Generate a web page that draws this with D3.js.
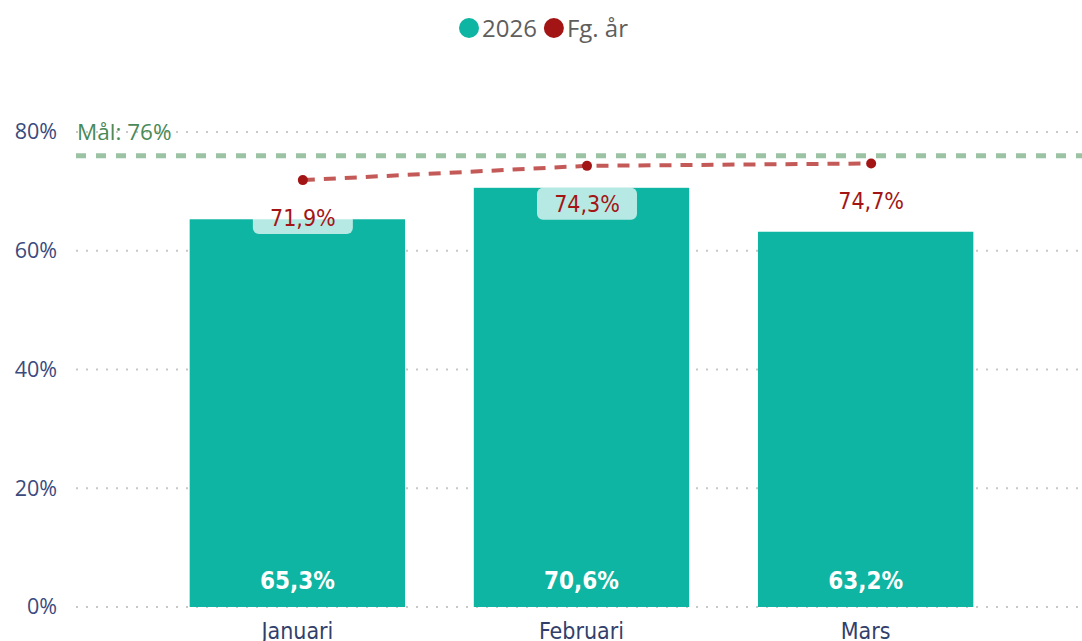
<!DOCTYPE html>
<html><head><meta charset="utf-8">
<script src="https://cdn.jsdelivr.net/npm/d3@7"></script>
<style>body{margin:0;background:#fff}svg{display:block}</style>
</head><body>
<svg id="chart" width="1082" height="641"></svg>
<script>
const categories = ["Januari", "Februari", "Mars"];
const values2026 = [65.3, 70.6, 63.2];
const valuesPrev = [71.9, 74.3, 74.7];
const yTicks = [0, 20, 40, 60, 80];
const goalValue = 76;
const goalLabel = "Mål: 76%";
const legendLabels = ["2026", "Fg. år"];

const teal = "#0db5a2", darkRed = "#a31515", lineRed = "#c45a58", goalGreen = "#9cc2a4";
const fmt = v => v.toFixed(1).replace(".", ",") + "%";

const svg = d3.select("#chart");
const x = d3.scaleBand().domain(categories).range([76, 1087]).paddingInner(0.242).paddingOuter(0.4);
const y = d3.scaleLinear().domain([0, 80]).range([607, 132]);

// gridlines
svg.append("g").selectAll("line").data(yTicks).join("line")
  .attr("x1", 76).attr("x2", 1082).attr("y1", d => y(d)).attr("y2", d => y(d))
  .attr("stroke", "#c8c8c8").attr("stroke-width", 2).attr("stroke-dasharray", "2,8");

// y axis
const yAxis = d3.axisLeft(y).tickValues(yTicks).tickFormat(d => d + "%").tickSize(0).tickPadding(0);
const ya = svg.append("g").attr("transform", "translate(57,0)").call(yAxis);
ya.select(".domain").remove();
ya.selectAll("text").attr("fill", "#3b4a7c").style("font-family", "'Open Sans', sans-serif").style("font-size", "21.5px");

// bars
svg.append("g").selectAll("rect").data(categories).join("rect")
  .attr("x", d => x(d)).attr("width", x.bandwidth())
  .attr("y", (d, i) => y(values2026[i])).attr("height", (d, i) => y(0) - y(values2026[i]))
  .attr("fill", teal);

// bar labels
svg.append("g").selectAll("text").data(categories).join("text")
  .attr("x", d => x(d) + x.bandwidth() / 2).attr("y", 589)
  .attr("text-anchor", "middle").attr("fill", "#fff")
  .style("font-family", "'DejaVu Sans Condensed', sans-serif").style("font-weight", "bold").style("font-size", "24px")
  .text((d, i) => fmt(values2026[i]));

// x axis
const xAxis = d3.axisBottom(x).tickSize(0).tickPadding(0);
const xa = svg.append("g").attr("transform", "translate(0,612)").call(xAxis);
xa.select(".domain").remove();
xa.selectAll("text").attr("dy", "0").attr("y", 27).attr("fill", "#323f6b")
  .style("font-family", "'DejaVu Sans Condensed', sans-serif").style("font-size", "23px");

// goal line
svg.append("line").attr("x1", 76).attr("x2", 1082).attr("y1", y(goalValue)).attr("y2", y(goalValue))
  .attr("stroke", goalGreen).attr("stroke-width", 5).attr("stroke-dasharray", "10,10");
svg.append("text").attr("x", 77).attr("y", y(80) + 8).attr("fill", "#4a8a58")
  .style("font-family", "'Open Sans', sans-serif").style("font-size", "22.5px").text(goalLabel);

// prev year line
const off = 5.5;
const cx = d => x(d) + x.bandwidth() / 2 + off;
const line = d3.line().x((d, i) => cx(categories[i])).y(d => y(d));
svg.append("path").datum(valuesPrev).attr("d", line).attr("fill", "none")
  .attr("stroke", lineRed).attr("stroke-width", 4).attr("stroke-dasharray", "12,9");
svg.append("g").selectAll("circle").data(valuesPrev).join("circle")
  .attr("cx", (d, i) => cx(categories[i])).attr("cy", d => y(d)).attr("r", 5).attr("fill", darkRed);

// prev year labels
const lg = svg.append("g");
valuesPrev.forEach((v, i) => {
  const c = categories[i];
  const ty = y(v) + 38;
  const boxTop = ty - 16, boxBot = ty + 16;
  if (boxBot > y(values2026[i])) {
    lg.append("rect").attr("x", cx(c) - 50).attr("y", boxTop).attr("width", 100).attr("height", 32)
      .attr("rx", 6).attr("fill", "#fff").attr("opacity", 0.7);
  }
  lg.append("text").attr("x", cx(c)).attr("y", ty + 8).attr("text-anchor", "middle")
    .attr("fill", darkRed).style("font-family", "'DejaVu Sans Condensed', sans-serif")
    .style("font-size", "23px").text(fmt(v));
});

// legend
const leg = svg.append("g");
const legColors = [teal, darkRed];
let lx = 469;
legendLabels.forEach((l, i) => {
  leg.append("circle").attr("cx", lx).attr("cy", 28).attr("r", 10).attr("fill", legColors[i]);
  const t = leg.append("text").attr("x", lx + 13).attr("y", 37).attr("fill", "#605e5c")
    .style("font-family", "'Open Sans', sans-serif").style("font-size", "24px").text(l);
  lx = lx + 13 + t.node().getComputedTextLength() + 17;
});
</script>
</body></html>
